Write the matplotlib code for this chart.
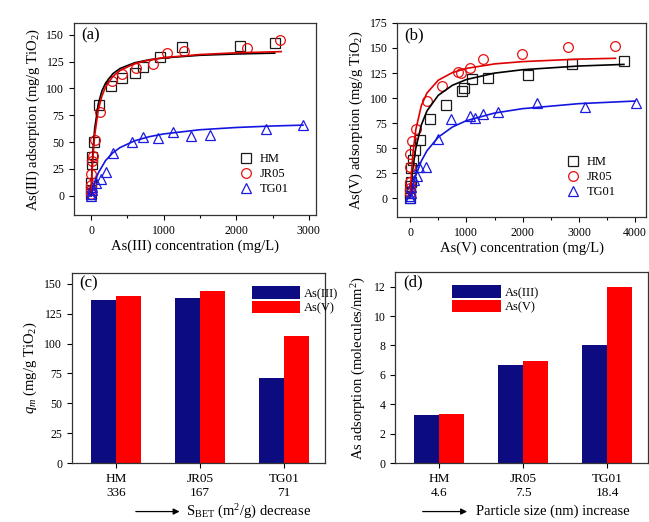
import matplotlib
matplotlib.use("Agg")
import matplotlib.pyplot as plt
from matplotlib.patches import FancyArrowPatch
from matplotlib.ticker import MultipleLocator

plt.rcParams['font.family'] = ['Liberation Serif', 'DejaVu Serif']
plt.rcParams['mathtext.fontset'] = 'custom'
plt.rcParams['mathtext.rm'] = 'Liberation Serif'
plt.rcParams['mathtext.it'] = 'Liberation Serif:italic'
plt.rcParams['mathtext.bf'] = 'Liberation Serif:bold'

# (a) As(III) isotherms: measured points
a_hm_x = [0, 0, 5, 10, 20, 40, 110, 270, 420, 600, 720, 950, 1250, 2050, 2530]
a_hm_y = [2, 5, 12, 30, 36, 50, 85, 102, 110, 114, 120, 129, 139, 140, 142]
a_jr_x = [0, 0, 3, 5, 10, 30, 50, 120, 290, 430, 620, 860, 1040, 1280, 2150, 2600]
a_jr_y = [2, 5, 10, 20, 32, 37, 52, 78, 107, 113, 119, 123, 133, 135, 138, 145]
a_tg_x = [0, 5, 10, 20, 70, 140, 200, 300, 560, 720, 920, 1130, 1380, 1640, 2410, 2920]
a_tg_y = [0, 2, 5, 8, 12, 16, 22, 40, 50, 55, 54, 59, 56, 57, 62, 66]
# (a) fitted curves
a_fit_x = [0, 10, 25, 50, 100, 150, 200, 300, 400, 600, 800, 1000, 1500, 2000, 2530]
a_hm_fit = [0, 19.8, 40.6, 62.5, 85.6, 97.7, 104.9, 113.7, 118.6, 123.9, 126.7, 128.4, 130.9, 132.1, 132.9]
a_jr_fit_x = [0, 10, 25, 50, 100, 150, 200, 300, 400, 600, 800, 1000, 1500, 2000, 2620]
a_jr_fit = [0, 16.7, 35.4, 56.3, 80.0, 93.0, 101.3, 111.1, 116.8, 123.1, 126.5, 128.7, 131.6, 133.2, 134.3]
a_tg_fit_x = [0, 25, 50, 100, 200, 300, 400, 600, 800, 1000, 1500, 2000, 2500, 2920]
a_tg_fit = [0, 6.9, 12.6, 21.3, 32.8, 40.0, 44.9, 51.2, 55.0, 57.6, 61.5, 63.6, 65.0, 65.8]

# (b) As(V) isotherms: measured points
b_hm_x = [0, 0, 5, 10, 20, 50, 80, 170, 360, 640, 930, 960, 1100, 1380, 2100, 2880, 3800]
b_hm_y = [0, 5, 12, 16, 30, 38, 48, 58, 79, 93, 107, 110, 119, 120, 123, 134, 137]
b_jr_x = [0, 0, 0, 0, 0, 30, 110, 300, 570, 850, 910, 1070, 1290, 1980, 2800, 3640]
b_jr_y = [5, 10, 16, 31, 44, 57, 69, 97, 112, 126, 125, 130, 139, 144, 151, 152]
b_tg_x = [0, 5, 10, 20, 60, 130, 150, 290, 490, 720, 1070, 1150, 1290, 1560, 2250, 3110, 4020]
b_tg_y = [0, 2, 5, 11, 18, 22, 31, 31, 59, 79, 82, 80, 84, 86, 95, 91, 95]
# (b) fitted curves
b_hm_fit_x = [0, 25, 50, 100, 200, 300, 500, 750, 1000, 1500, 2000, 3000, 3800]
b_hm_fit = [0, 16.9, 30.2, 49.7, 73.3, 87.2, 102.7, 112.7, 118.5, 124.9, 128.3, 132.0, 133.6]
b_jr_fit_x = [0, 25, 50, 100, 200, 300, 500, 750, 1000, 1500, 2000, 3000, 3650]
b_jr_fit = [0, 26.4, 44.7, 68.2, 92.6, 105.1, 117.8, 125.4, 129.6, 134.1, 136.4, 138.9, 139.7]
b_tg_fit_x = [0, 25, 50, 100, 200, 300, 500, 750, 1000, 1500, 2000, 3000, 4000]
b_tg_fit = [0, 6.7, 12.6, 22.5, 37.2, 47.4, 60.9, 71.0, 77.4, 85.0, 89.4, 94.4, 97.0]

# (c), (d) bars
samples = ['HM', 'JR05', 'TG01']
sbet = ['336', '167', '71']
size = ['4.6', '7.5', '18.4']
qm_as3 = [136, 138, 71]
qm_as5 = [140, 144, 106]
dens_as3 = [3.25, 6.65, 8.05]
dens_as5 = [3.35, 6.95, 12.0]

BLK, RED, BLU = '#1a1a1a', '#e81010', '#1a1ae0'
NAVY, BRED = '#0c0c80', '#ff0000'

fig = plt.figure(figsize=(6.49, 5.22), dpi=100)


def style(ax):
    ax.tick_params(direction='out', labelsize=8.5, length=3.5, width=0.8, top=False, right=False)
    ax.tick_params(which='minor', direction='out', length=2, width=0.8)
    for s in ax.spines.values():
        s.set_linewidth(0.9)
        s.set_color('#333333')


def isotherm(ax, pts, fits, xlim, ylim, ystep, xlabel, ylabel, tag, leg_xy):
    for (x, y, m, c, lab) in pts:
        ax.plot(x, y, linestyle='none', marker=m, markersize=7, mfc='none',
                mec=c, mew=0.9, label=lab)
    for (x, y, c) in fits:
        ax.plot(x, y, color=c, lw=1.2)
    ax.set_xlim(*xlim)
    ax.set_ylim(*ylim)
    ax.xaxis.set_major_locator(MultipleLocator(1000))
    ax.xaxis.set_minor_locator(MultipleLocator(500))
    ax.yaxis.set_major_locator(MultipleLocator(ystep))
    ax.set_xlabel(xlabel, fontsize=10.5, labelpad=2)
    ax.set_ylabel(ylabel, fontsize=10.5, labelpad=3)
    ax.text(0.03, 0.935, tag, transform=ax.transAxes, fontsize=12, va='center')
    ax.legend(loc='upper left', bbox_to_anchor=leg_xy, frameon=False, fontsize=9,
              handlelength=1.0, handletextpad=0.6, labelspacing=0.25, borderpad=0,
              borderaxespad=0)
    style(ax)


ax_a = fig.add_axes([0.114, 0.588, 0.373, 0.368])
isotherm(ax_a,
         [(a_hm_x, a_hm_y, 's', BLK, 'HM'), (a_jr_x, a_jr_y, 'o', RED, 'JR05'),
          (a_tg_x, a_tg_y, '^', BLU, 'TG01')],
         [(a_fit_x, a_hm_fit, 'black'), (a_jr_fit_x, a_jr_fit, '#e00000'),
          (a_tg_fit_x, a_tg_fit, '#1515e0')],
         (-235, 3100), (-18, 161), 25,
         'As(III) concentration (mg/L)', 'As(III) adsorption (mg/g TiO$_2$)', '(a)',
         (0.686, 0.323))

ax_b = fig.add_axes([0.612, 0.584, 0.384, 0.372])
isotherm(ax_b,
         [(b_hm_x, b_hm_y, 's', BLK, 'HM'), (b_jr_x, b_jr_y, 'o', RED, 'JR05'),
          (b_tg_x, b_tg_y, '^', BLU, 'TG01')],
         [(b_hm_fit_x, b_hm_fit, 'black'), (b_jr_fit_x, b_jr_fit, '#e00000'),
          (b_tg_fit_x, b_tg_fit, '#1515e0')],
         (-230, 4200), (-19, 175), 25,
         'As(V) concentration (mg/L)', 'As(V) adsorption (mg/g TiO$_2$)', '(b)',
         (0.679, 0.314))


def bars(ax, v3, v5, ticks2, ylim, ystep, ylabel, tag, leg_loc, leg_xy):
    pos = [1, 2, 3]
    w = 0.3
    ax.bar([p - w / 2 for p in pos], v3, w, color=NAVY, label='As(III)')
    ax.bar([p + w / 2 for p in pos], v5, w, color=BRED, label='As(V)')
    ax.set_xlim(0.476, 3.49)
    ax.set_ylim(*ylim)
    ax.set_xticks(pos)
    ax.set_xticklabels([s + '\n' + t for s, t in zip(samples, ticks2)], fontsize=9.5,
                       linespacing=1.3)
    ax.yaxis.set_major_locator(MultipleLocator(ystep))
    ax.set_ylabel(ylabel, fontsize=10.5, labelpad=4)
    ax.text(0.03, 0.945, tag, transform=ax.transAxes, fontsize=12, va='center')
    ax.legend(loc=leg_loc, bbox_to_anchor=leg_xy, frameon=False, fontsize=9,
              handlelength=3.9, handleheight=1.2, handletextpad=0.3,
              labelspacing=0.05, borderpad=0, borderaxespad=0)
    style(ax)
    ax.tick_params(axis='x', labelsize=9.5)


ax_c = fig.add_axes([0.111, 0.113, 0.390, 0.364])
bars(ax_c, qm_as3, qm_as5, sbet, (0, 159), 25, '$q_m$ (mg/g TiO$_2$)', '(c)',
     'upper left', (0.71, 0.93))

ax_d = fig.add_axes([0.609, 0.113, 0.390, 0.366])
bars(ax_d, dens_as3, dens_as5, size, (0, 13), 2, 'As adsorption (molecules/nm$^2$)', '(d)',
     'upper left', (0.225, 0.93))

# arrows with trend notes under the bar panels
for x0, x1, tx, txt in [(0.205, 0.281, 0.287, 'S$_{\\rm BET}$ (m$^2$/g) decrease'),
                        (0.647, 0.724, 0.734, 'Particle size (nm) increase')]:
    fig.add_artist(FancyArrowPatch((x0, 0.02), (x1, 0.02), transform=fig.transFigure,
                                   arrowstyle='-|>', mutation_scale=9, lw=0.9, color='black'))
    fig.text(tx, 0.02, txt, fontsize=10.5, va='center', ha='left')

fig.savefig('out.png', dpi=100)
